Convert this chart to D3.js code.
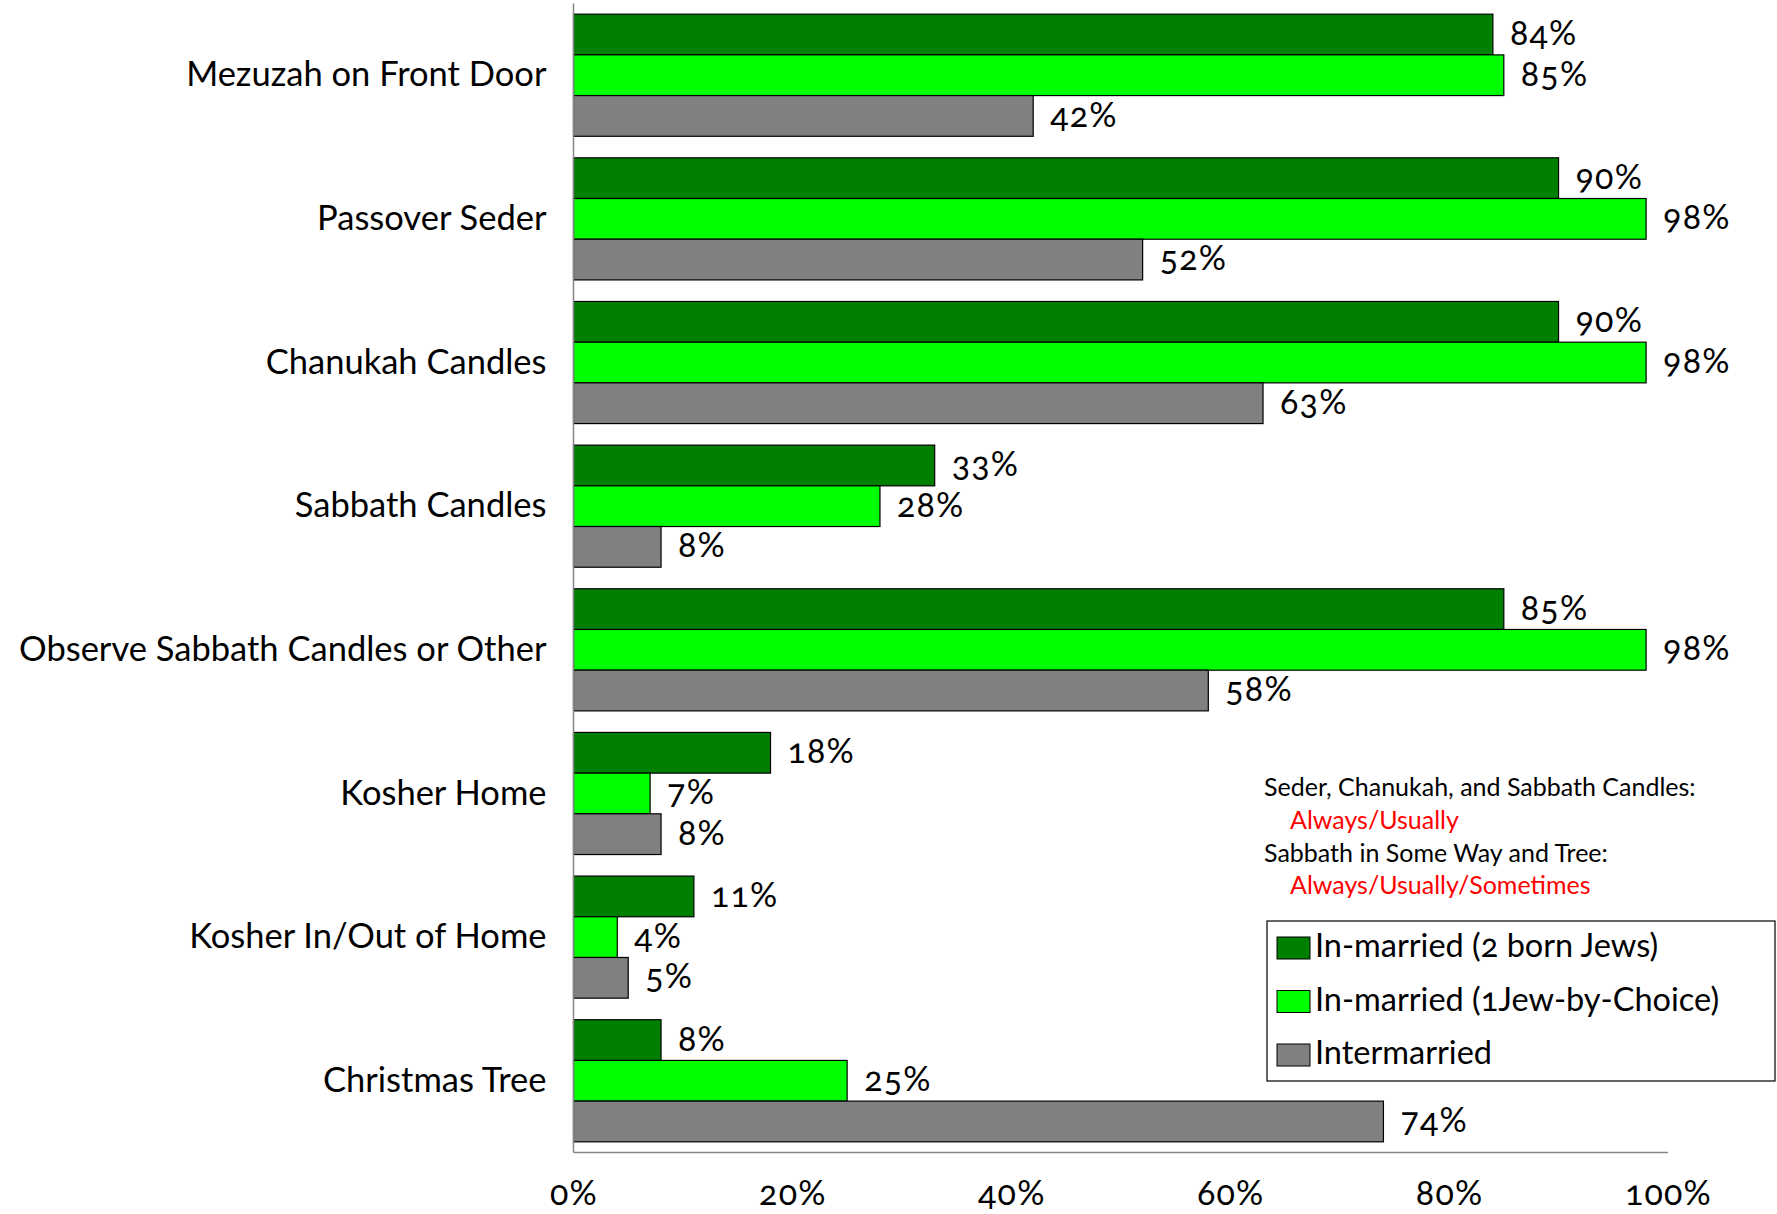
<!DOCTYPE html>
<html>
<head>
<meta charset="utf-8">
<script src="https://cdn.jsdelivr.net/npm/d3@7"></script>
<style>
  html, body { margin: 0; padding: 0; background: #fff; }
  svg { display: block; font-family: Lato, "Open Sans", sans-serif; font-feature-settings: "onum"; }
</style>
</head>
<body>
<svg id="chart" width="1777" height="1214"></svg>
<script>
// Jewish home practices by marriage type (percent)
const categories = [
  "Mezuzah on Front Door",
  "Passover Seder",
  "Chanukah Candles",
  "Sabbath Candles",
  "Observe Sabbath Candles or Other",
  "Kosher Home",
  "Kosher In/Out of Home",
  "Christmas Tree"
];
const seriesNames = [
  "In-married (2 born Jews)",
  "In-married (1Jew-by-Choice)",
  "Intermarried"
];
const inMarriedBorn   = [84, 90, 90, 33, 85, 18, 11, 8];
const inMarriedChoice = [85, 98, 98, 28, 98, 7, 4, 25];
const intermarried    = [42, 52, 63, 8, 58, 8, 5, 74];
const seriesValues = [inMarriedBorn, inMarriedChoice, intermarried];
const seriesColors = ["#008000", "#00ff00", "#808080"];
const xTicks = [0, 20, 40, 60, 80, 100];
const noteLines = [
  { text: "Seder, Chanukah, and Sabbath Candles:", red: false },
  { text: "Always/Usually", red: true },
  { text: "Sabbath in Some Way and Tree:", red: false },
  { text: "Always/Usually/Sometimes", red: true }
];

const svg = d3.select("#chart");
const plot = { left: 573.5, right: 1668, top: 3.4, bottom: 1152.6 };

const x = d3.scaleLinear().domain([0, 100]).range([plot.left, plot.right]);
const y = d3.scaleBand().domain(categories).range([plot.top, plot.bottom])
  .paddingInner(0.15).paddingOuter(0.075);
const ySub = d3.scaleBand().domain(d3.range(seriesNames.length)).range([0, y.bandwidth()]);

// bars
const rows = categories.map((c, i) => ({ cat: c, vals: seriesValues.map(s => s[i]) }));
const groups = svg.append("g").selectAll("g").data(rows).join("g")
  .attr("transform", d => `translate(0,${y(d.cat)})`);

groups.selectAll("rect").data(d => d.vals.map((v, k) => ({ v, k }))).join("rect")
  .attr("x", x(0))
  .attr("y", d => ySub(d.k))
  .attr("width", d => x(d.v) - x(0))
  .attr("height", ySub.bandwidth())
  .attr("fill", d => seriesColors[d.k])
  .attr("stroke", "#000")
  .attr("stroke-width", 1.2);

groups.selectAll("text").data(d => d.vals.map((v, k) => ({ v, k }))).join("text")
  .attr("x", d => x(d.v) + 17)
  .attr("y", d => ySub(d.k) + ySub.bandwidth() / 2 + 2)
  .attr("dominant-baseline", "middle")
  .attr("font-size", 34)
  .attr("letter-spacing", 1.2)
  .attr("fill", "#000")
  .text(d => d.v + "%");

// category axis
const yAxis = svg.append("g").attr("transform", `translate(${plot.left},0)`)
  .call(d3.axisLeft(y).tickSize(0).tickPadding(27));
yAxis.select(".domain").attr("stroke", "#868686").attr("stroke-width", 1.5)
  .attr("d", `M0,${plot.top}V${plot.bottom}`);
yAxis.selectAll("text").attr("font-size", 34.5).attr("fill", "#000")
  .attr("font-family", "Lato, 'Open Sans', sans-serif");

// value axis
const xAxis = svg.append("g").attr("transform", `translate(0,${plot.bottom})`)
  .call(d3.axisBottom(x).tickValues(xTicks).tickFormat(d => d + "%").tickSize(0).tickPadding(28));
xAxis.select(".domain").attr("stroke", "#868686").attr("stroke-width", 1.5)
  .attr("d", `M${plot.left},0H${plot.right}`);
xAxis.selectAll("text").attr("font-size", 34).attr("letter-spacing", 1.2).attr("fill", "#000")
  .attr("font-family", "Lato, 'Open Sans', sans-serif");

// note text
const note = svg.append("g").attr("font-size", 25);
note.selectAll("text").data(noteLines).join("text")
  .attr("x", d => d.red ? 1290 : 1264)
  .attr("y", (d, i) => 790 + i * 32.7)
  .attr("dominant-baseline", "middle")
  .attr("fill", d => d.red ? "#ff0000" : "#000")
  .text(d => d.text);

// legend
const legend = svg.append("g");
legend.append("rect")
  .attr("x", 1267).attr("y", 921).attr("width", 508).attr("height", 160)
  .attr("fill", "#fff").attr("stroke", "#000").attr("stroke-width", 1.2);
const items = legend.selectAll("g.item").data(seriesNames).join("g")
  .attr("class", "item")
  .attr("transform", (d, i) => `translate(1277,${948 + i * 53.5})`);
items.append("rect")
  .attr("x", 0).attr("y", -11).attr("width", 33).attr("height", 22)
  .attr("fill", (d, i) => seriesColors[i]).attr("stroke", "#000").attr("stroke-width", 1);
items.append("text")
  .attr("x", 38).attr("y", 1)
  .attr("dominant-baseline", "middle")
  .attr("font-size", 32.5)
  .text(d => d);
</script>
</body>
</html>
